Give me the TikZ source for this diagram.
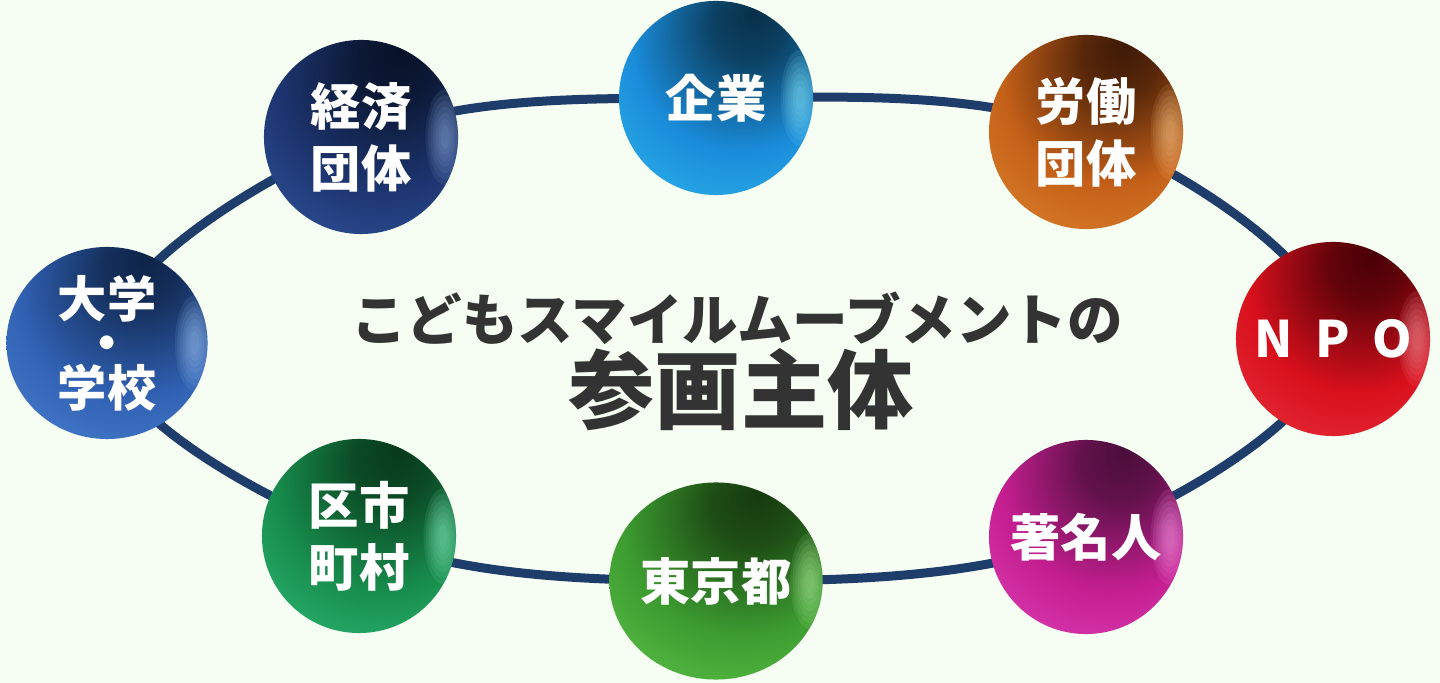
\documentclass[tikz,border=0pt]{standalone}
\usepackage{fontspec}
\newfontfamily\jp{Noto Sans CJK JP}
\usetikzlibrary{shapes.geometric}
\definecolor{bgcol}{HTML}{F6FDF2}
\definecolor{ringcol}{HTML}{1F3D6B}
\definecolor{titlecol}{HTML}{333333}
\colorlet{sphbase}{blue}
\colorlet{sphdark}{black}
\colorlet{sphlight}{white}
\pgfdeclareradialshading[sphbase,sphdark,sphlight]{glass}{\pgfpoint{10bp}{22bp}}{%
  color(0bp)=(sphdark);
  color(10bp)=(sphdark!80!sphbase);
  color(28bp)=(sphbase);
  color(46bp)=(sphbase!55!sphlight);
  color(60bp)=(sphlight);
  color(80bp)=(sphlight!70!white)}
\tikzset{
  sph/.style n args={3}{
    circle, minimum size=1.94cm, inner sep=0pt,
    /utils/exec={\definecolor{sphbase}{HTML}{#1}\definecolor{sphdark}{HTML}{#2}\definecolor{sphlight}{HTML}{#3}},
    shading=glass,
    path picture={
      \foreach \k in {1,...,7}{
        \fill[sphlight!60!white, fill opacity=0.1]
          ([xshift=-0.13cm]path picture bounding box.east)
          ellipse ({0.02cm+0.025cm*\k} and {0.06cm+0.06cm*\k});
      }
    },
    text=white, font=\jp\bfseries\fontsize{14.3pt}{17.6pt}\selectfont,
    align=center},
  ring/.style={draw=ringcol, line width=0.09cm},
  title/.style={text=titlecol, font=\jp\bfseries, inner sep=0pt}
}
\begin{document}
\begin{tikzpicture}[x=0.01cm, y=-0.01cm]
\fill[bgcol] (0,0) rectangle (1440,683);
\useasboundingbox (0,0) rectangle (1440,683);
\coordinate (ckeizai) at (361,137);
\coordinate (ckigyo) at (716,98);
\coordinate (crodo) at (1086,132);
\coordinate (cnpo) at (1333,339);
\coordinate (cchomei) at (1086,537);
\coordinate (ctokyo) at (716,581);
\coordinate (ckushi) at (359,536);
\coordinate (cdaigaku) at (107,343);
\draw[ring] plot[smooth cycle, tension=0.62] coordinates {(ckeizai) (ckigyo) (crodo) (cnpo) (cchomei) (ctokyo) (ckushi) (cdaigaku)};
\node[sph={1D3570}{081228}{4A80D8}] (keizai) at (ckeizai) {経済\\団体};
\node[sph={1A8CDA}{083048}{48E8FF}] (kigyo) at (ckigyo) {企業};
\node[sph={C46018}{3E1A06}{FFB04A}] (rodo) at (crodo) {労働\\団体};
\node[sph={D8101C}{480006}{FF5A6A}] (npo) at (cnpo) {N\hspace{0.45em}P\hspace{0.45em}O};
\node[sph={C41E90}{4A0E3A}{FF6AE8}] (chomei) at (cchomei) {著名人};
\node[sph={3C9C30}{163A0E}{8AF266}, ellipse, minimum width=2.02cm, minimum height=1.97cm] (tokyo) at (ctokyo) {東京都};
\node[sph={178C4C}{083A1C}{48F2A8}] (kushi) at (ckushi) {区市\\町村};
\node[sph={3060B2}{0E2448}{6AAAF6}, ellipse, minimum width=2.01cm, minimum height=1.86cm, font=\jp\bfseries\fontsize{14pt}{12.6pt}\selectfont] (daigaku) at (cdaigaku) {大学\\・\\学校};
\node[title, font=\jp\bfseries\fontsize{15.8pt}{18pt}\selectfont] (title1) at (737,318) {こどもスマイルムーブメントの};
\node[title, font=\jp\bfseries\fontsize{24.5pt}{28pt}\selectfont] (title2) at (741,390) {参画主体};
\end{tikzpicture}
\end{document}
